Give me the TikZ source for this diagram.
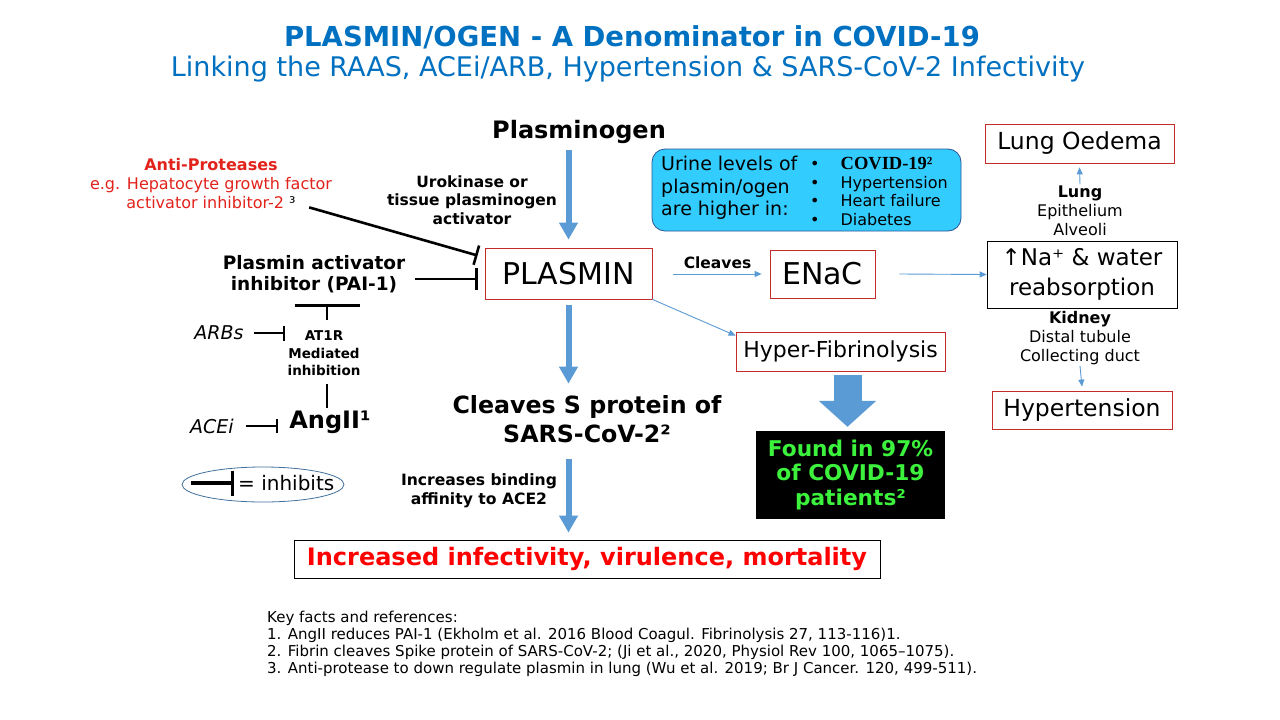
\documentclass[tikz,border=0pt]{standalone}
\usepackage{fontspec}
\setmainfont{DejaVu Sans}
\newfontfamily\covidfont{Liberation Serif}
\usetikzlibrary{arrows.meta,positioning,shapes.geometric}
\definecolor{titleblue}{HTML}{0070C0}
\definecolor{arrowblue}{HTML}{5B9BD5}
\definecolor{boxred}{HTML}{C42B2B}
\definecolor{antired}{HTML}{E2231C}
\definecolor{infred}{HTML}{FF0000}
\definecolor{foundgreen}{HTML}{3CF23C}
\definecolor{urinecyan}{HTML}{33CCFF}
\definecolor{urineedge}{HTML}{2F5597}
\definecolor{ellipseedge}{HTML}{41719C}

\begin{document}
\begin{tikzpicture}[x=1pt, y=-1pt,
    every node/.append style={inner sep=2pt},
    redbox/.style={draw=boxred, line width=0.8pt, align=center},
    blackbox/.style={draw=black, line width=0.8pt, align=center},
    bigarrow/.style={draw=arrowblue, line width=6pt, -{Triangle[width=18pt,length=17pt]}},
    fatarrow/.style={draw=arrowblue, line width=28pt, shorten <=4pt, shorten >=4pt, -{Triangle[width=56pt,length=26pt]}},
    thinarrow/.style={draw=arrowblue, line width=0.9pt, -{Triangle[width=6pt,length=7pt]}},
    inhib/.style={draw=black, line width=2.6pt, -{Bar[width=#1]}},
    inhib/.default=20pt,
    plainline/.style={draw=black, line width=2.6pt},
    smallbold/.style={font=\fontsize{15.5}{18.5}\selectfont\bfseries, align=center},
    sidetext/.style={font=\fontsize{16}{19}\selectfont, align=center, inner sep=1pt}]
\fill[white] (0,0) rectangle (1280,720);
\useasboundingbox (0,0) rectangle (1280,720);

% title
\node[font=\fontsize{27.5}{30}\selectfont\bfseries, text=titleblue] (ntitle) at (632,37) {PLASMIN/OGEN - A Denominator in COVID-19};
\node[font=\fontsize{27}{30}\selectfont, text=titleblue] (nsub) at (628,69) {Linking the RAAS, ACEi/ARB, Hypertension \& SARS-CoV-2 Infectivity};

% central column
\node[font=\fontsize{24}{28}\selectfont\bfseries] (nplg) at (579,132) {Plasminogen};
\node[redbox, minimum width=167pt, minimum height=51pt, font=\fontsize{30}{34}\selectfont] (nplasmin) at (568.5,273.5) {PLASMIN};
\node[smallbold] (nuro) at (472,200) {Urokinase or\\tissue plasminogen\\activator};
\node[font=\fontsize{23.7}{29}\selectfont\bfseries, align=center] (nsprot) at (587,419.5) {Cleaves S protein of\\SARS-CoV-2²};
\node[smallbold, font=\fontsize{15.6}{19}\selectfont\bfseries] (nbind) at (479,491) {Increases binding\\affinity to ACE2};
\node[blackbox, minimum width=586pt, minimum height=38pt, font=\fontsize{24}{26}\selectfont\bfseries, text=infred] (ninfect) at (587,559) {Increased infectivity, virulence, mortality};

\draw[bigarrow] ([yshift=-4pt]nplg.south -| nplasmin.north) -- ([yshift=8pt]nplasmin.north);
\draw[bigarrow] ([yshift=-6pt]nplasmin.south) -- ([yshift=10pt]nplasmin.south |- nsprot.north);
\draw[bigarrow] ([yshift=-14pt]nsprot.south -| nplasmin.south) -- ([yshift=7pt]ninfect.north -| nplasmin.south);

% right branch
\node[redbox, minimum width=105pt, minimum height=48pt, font=\fontsize{30}{34}\selectfont] (nenac) at (822.5,274) {ENaC};
\draw[thinarrow] ([xshift=21pt]nplasmin.east |- nenac) -- ([xshift=-8pt]nenac.west)
    node[midway, above=3pt, font=\fontsize{15.5}{17}\selectfont\bfseries] (ncleaves) {Cleaves};
\node[blackbox, minimum width=190pt, minimum height=67pt, font=\fontsize{23}{30}\selectfont] (nna) at (1082,274.5) {↑Na⁺ \& water\\reabsorption};
\draw[thinarrow] ([xshift=24pt]nenac.east) -- (nna.west);

\node[redbox, minimum width=189pt, minimum height=39pt, font=\fontsize{23.5}{27}\selectfont] (noedema) at (1079.5,143.5) {Lung Oedema};
\node[sidetext] (nlung) at (1080,210.5) {\textbf{Lung}\\Epithelium\\Alveoli};
\draw[thinarrow] (nlung.north) -- ([yshift=-4pt]noedema.south);
\node[sidetext] (nkidney) at (1080,338) {\textbf{Kidney}\\Distal tubule\\Collecting duct};
\node[redbox, minimum width=180pt, minimum height=38pt, font=\fontsize{23.5}{26}\selectfont] (nhyper) at (1082,410) {Hypertension};
\draw[thinarrow] (nkidney.south) -- ([yshift=4pt]nhyper.north);

% fibrinolysis
\node[redbox, minimum width=209pt, minimum height=39pt, font=\fontsize{22}{26}\selectfont] (nfib) at (840.5,351.5) {Hyper-Fibrinolysis};
\draw[thinarrow] (nplasmin.south east) -- ([yshift=-4pt]nfib.north west);
\node[fill=black, minimum width=189pt, minimum height=88pt, text=foundgreen, align=center,
    font=\fontsize{21.7}{24.5}\selectfont\bfseries] (nfound) at (850.5,475) {Found in 97\%\\of COVID-19\\patients²};
\draw[fatarrow] ([xshift=-3pt]nfib.south -| nfound) -- ([xshift=-3pt]nfound.north);

% urine levels
\node[draw=urineedge, fill=urinecyan, rounded corners=13pt, minimum width=309pt, minimum height=82pt, line width=0.8pt] (nurine) at (806.5,190) {};
\node[anchor=west, align=left, font=\fontsize{19}{22.5}\selectfont, inner sep=0pt] (nurinetxt) at (661,188) {Urine levels of\\plasmin/ogen\\are higher in:};
\node[anchor=west, inner sep=0pt, font=\fontsize{16}{18.5}\selectfont] (nlist) at (810,194) {\begin{tabular}{@{}l@{\hspace{21pt}}l@{}}
  •&{\covidfont\bfseries\fontsize{18.5}{18.5}\selectfont COVID-19²}\\
  •&Hypertension\\
  •&Heart failure\\
  •&Diabetes
\end{tabular}};

% left side
\node[font=\fontsize{16}{19}\selectfont, text=antired, align=center] (nanti) at (211,184) {\textbf{Anti-Proteases}\\e.g. Hepatocyte growth factor\\activator inhibitor-2 \textcolor{black}{³}};
\draw[inhib] ([xshift=-25pt,yshift=4pt]nanti.south east) -- ([xshift=-7pt,yshift=18pt]nplasmin.west);
\node[font=\fontsize{18.5}{21}\selectfont\bfseries, align=center] (npai) at (314,274) {Plasmin activator\\inhibitor (PAI-1)};
\draw[inhib=22pt] ([xshift=8pt,yshift=-5pt]npai.east) -- ([xshift=-7pt,yshift=-5.5pt]nplasmin.west);
\node[font=\fontsize{13.5}{17.5}\selectfont\bfseries, align=center] (nat1r) at (324,353.5) {AT1R\\Mediated\\inhibition};
\draw[inhib=65pt] ([xshift=3pt,yshift=9pt]nat1r.north) -- ([xshift=3pt,yshift=-9pt]nat1r.north |- npai.south);
\node[font=\fontsize{24}{27}\selectfont\bfseries] (nangii) at (330,422) {AngII¹};
\draw[plainline] ([xshift=3pt,yshift=-6pt]nat1r.south) -- ([xshift=3pt]nat1r.south |- nangii.north);
\node[font=\fontsize{19}{23}\selectfont\itshape] (narbs) at (219,333) {ARBs};
\node[font=\fontsize{19}{23}\selectfont\itshape] (nacei) at (212,426) {ACEi};
\draw[inhib=15pt] ([xshift=8pt]narbs.east) -- (nat1r.west |- narbs.east);
\draw[inhib=14pt] ([xshift=10pt]nacei.east) -- ([xshift=-9pt]nangii.west |- nacei.east);

% legend
\node[draw=ellipseedge, ellipse, minimum width=162pt, minimum height=35pt, line width=0.8pt] (nkeyell) at (263,484.5) {};
\node[anchor=west, inner sep=1pt, font=\fontsize{20}{23}\selectfont] (ninhibits) at (237,483) {= inhibits};
\draw[inhib=25pt, line width=3.5pt] ([xshift=9pt]nkeyell.west |- ninhibits.west) -- ([xshift=-3pt]ninhibits.west);

% references
\node[anchor=west, align=left, font=\fontsize{15}{17}\selectfont] (nkey) at (265,644) {Key facts and references:\\
1. AngII  reduces PAI-1 (Ekholm et al. 2016 Blood Coagul. Fibrinolysis  27, 113-116)1.\\
2. Fibrin cleaves Spike protein of SARS-CoV-2; (Ji et al., 2020, Physiol Rev 100, 1065–1075).\\
3. Anti-protease to down regulate plasmin in lung (Wu et al. 2019; Br J Cancer. 120, 499-511).};
\end{tikzpicture}
\end{document}
